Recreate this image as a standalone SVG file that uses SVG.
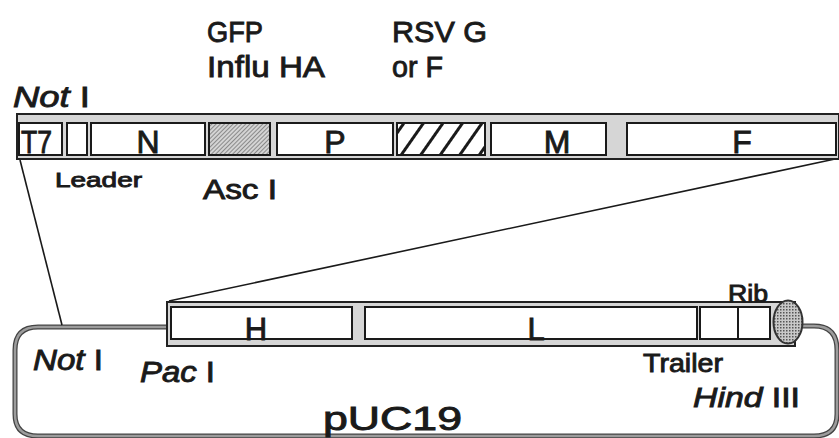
<svg xmlns="http://www.w3.org/2000/svg" width="839" height="438" viewBox="0 0 839 438">
<defs>
<style>
.t{font-family:"Liberation Sans","DejaVu Sans",sans-serif;fill:#1a1a1a;stroke:#1a1a1a;stroke-width:0.9}
.i{font-style:italic}
.bar{fill:#d6d6d6;stroke:#222;stroke-width:2}
.box{fill:#fff;stroke:#1a1a1a;stroke-width:2}
.ln{fill:none;stroke:#1a1a1a;stroke-width:1.6}
</style>
<pattern id="hatch" patternUnits="userSpaceOnUse" width="16" height="16" patternTransform="rotate(35)">
<rect width="16" height="16" fill="#fff"/>
<rect x="0" y="0" width="3" height="16" fill="#1a1a1a"/>
</pattern>
<pattern id="fine" patternUnits="userSpaceOnUse" width="3" height="3" patternTransform="rotate(45)">
<rect width="3" height="3" fill="#d4d4d4"/>
<rect width="1" height="3" fill="#8a8a8a"/>
</pattern>
<pattern id="dots" patternUnits="userSpaceOnUse" width="3" height="3">
<rect width="3" height="3" fill="#c8c8c8"/>
<rect width="1.5" height="1.5" fill="#555"/>
</pattern>
</defs>
<rect width="839" height="438" fill="#fff"/>

<g id="plasmid">
<path d="M167,327 L38,327 Q15,327 15,350 L15,414 Q15,436 38,436 L814,436 Q837,436 837,414 L837,350 Q837,326 814,326 L800,326" fill="none" stroke="#444" stroke-width="5"/>
<path d="M167,327 L38,327 Q15,327 15,350 L15,414 Q15,436 38,436 L814,436 Q837,436 837,414 L837,350 Q837,326 814,326 L800,326" fill="none" stroke="#9c9c9c" stroke-width="2.5"/>
</g>

<g id="connectors">
<line class="ln" x1="20" y1="160" x2="62" y2="325"/>
<line class="ln" x1="835" y1="159" x2="169" y2="301"/>
</g>

<g id="top-bar"><rect class="bar" x="17" y="114" width="822" height="45"/></g>
<g id="T7"><rect class="box" x="19" y="123" width="43" height="32"/><text class="t" x="21" y="153" font-size="31" textLength="31" lengthAdjust="spacingAndGlyphs">T7</text></g>
<g id="leader-box"><rect class="box" x="67" y="123" width="20" height="32"/></g>
<g id="N"><rect class="box" x="91" y="123" width="114" height="32"/><text class="t" x="148" y="153" font-size="32" text-anchor="middle">N</text></g>
<g id="insert1"><rect x="209" y="123" width="61" height="32" fill="url(#fine)" stroke="#1a1a1a" stroke-width="2"/></g>
<g id="P"><rect class="box" x="277" y="123" width="116" height="32"/><text class="t" x="335" y="153" font-size="32" text-anchor="middle">P</text></g>
<g id="insert2"><rect x="397" y="123" width="88" height="32" fill="url(#hatch)" stroke="#1a1a1a" stroke-width="2"/></g>
<g id="M"><rect class="box" x="491" y="123" width="115" height="32"/><text class="t" x="557" y="153" font-size="32" text-anchor="middle">M</text></g>
<g id="F"><rect class="box" x="627" y="123" width="209" height="32"/><text class="t" x="742" y="153" font-size="32" text-anchor="middle">F</text></g>

<g id="bottom-bar"><rect class="bar" x="167" y="302" width="628" height="44"/></g>
<g id="H"><rect class="box" x="171" y="307" width="181" height="32"/><text class="t" x="256" y="340" font-size="31" text-anchor="middle">H</text></g>
<g id="L"><rect class="box" x="365" y="307" width="332" height="32"/><text class="t" x="536" y="340" font-size="31" text-anchor="middle">L</text></g>
<g id="trailer-box"><rect class="box" x="700" y="307" width="38" height="32"/></g>
<g id="rib-box"><rect class="box" x="738" y="307" width="32" height="32"/></g>
<g id="rib"><ellipse cx="788" cy="322" rx="14.5" ry="21.5" fill="url(#dots)" stroke="#333" stroke-width="2"/></g>

<g id="labels">
<text class="t" x="207" y="42" font-size="30" textLength="56" lengthAdjust="spacingAndGlyphs">GFP</text>
<text class="t" x="207" y="77" font-size="30" textLength="118" lengthAdjust="spacingAndGlyphs">Influ HA</text>
<text class="t" x="392" y="42" font-size="30" textLength="95" lengthAdjust="spacingAndGlyphs">RSV G</text>
<text class="t" x="392" y="77" font-size="30" textLength="51" lengthAdjust="spacingAndGlyphs">or F</text>
<text class="t" x="13" y="107" font-size="30" textLength="77" lengthAdjust="spacingAndGlyphs"><tspan class="i">Not</tspan> I</text>
<text class="t" x="55" y="187" font-size="21" textLength="87" lengthAdjust="spacingAndGlyphs">Leader</text>
<text class="t" x="203" y="199" font-size="27" textLength="74" lengthAdjust="spacingAndGlyphs">Asc I</text>
<text class="t" x="728" y="302" font-size="23" textLength="40" lengthAdjust="spacingAndGlyphs">Rib</text>
<text class="t" x="33" y="370" font-size="29" textLength="70" lengthAdjust="spacingAndGlyphs"><tspan class="i">Not</tspan> I</text>
<text class="t" x="140" y="382" font-size="29" textLength="75" lengthAdjust="spacingAndGlyphs"><tspan class="i">Pac</tspan> I</text>
<text class="t" x="643" y="372" font-size="26" textLength="80" lengthAdjust="spacingAndGlyphs">Trailer</text>
<text class="t" x="693" y="407" font-size="28" textLength="107" lengthAdjust="spacingAndGlyphs"><tspan class="i">Hind</tspan> III</text>
<text class="t" x="323" y="430" font-size="33" textLength="139" lengthAdjust="spacingAndGlyphs">pUC19</text>
</g>
</svg>
